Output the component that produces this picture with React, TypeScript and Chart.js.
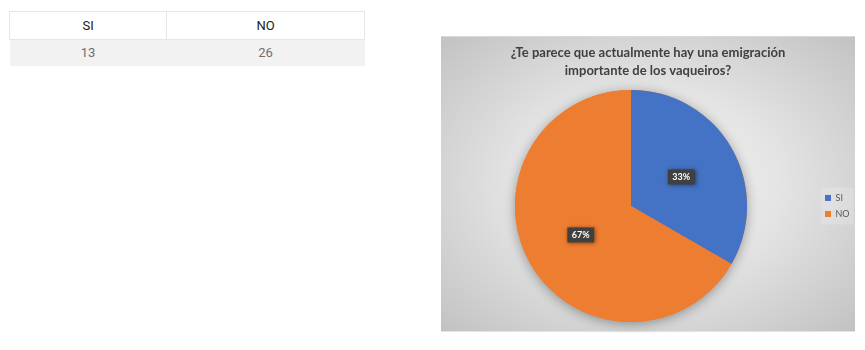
import React, { useEffect, useRef } from "react";
import { Chart, registerables } from "chart.js";

Chart.register(...registerables);

const categories = ["SI", "NO"];
const counts = [13, 26];
const sliceColors = ["#4472C4", "#ED7D31"];
const titleLines = ["¿Te parece que actualmente hay una emigración", "importante de los vaqueiros?"];

const pieShadow = {
  id: "pieShadow",
  beforeDatasetsDraw(chart: any) {
    const meta = chart.getDatasetMeta(0);
    const arc = meta.data[0];
    if (!arc) return;
    const { x, y, outerRadius } = arc.getProps(["x", "y", "outerRadius"], true);
    const ctx = chart.ctx;
    ctx.save();
    ctx.shadowColor = "rgba(0,0,0,0.35)";
    ctx.shadowBlur = 12;
    ctx.shadowOffsetX = 0;
    ctx.shadowOffsetY = 2;
    ctx.fillStyle = "#ED7D31";
    ctx.beginPath();
    ctx.arc(x, y, outerRadius, 0, Math.PI * 2);
    ctx.fill();
    ctx.restore();
  },
};

const pctLabels = {
  id: "pctLabels",
  afterDatasetsDraw(chart: any) {
    const meta = chart.getDatasetMeta(0);
    const data = chart.data.datasets[0].data as number[];
    const total = data.reduce((a, b) => a + b, 0);
    const ctx = chart.ctx;
    meta.data.forEach((arc: any, i: number) => {
      const p = arc.tooltipPosition();
      const txt = Math.round((data[i] / total) * 100) + "%";
      ctx.save();
      ctx.font = "bold 9px Lato, 'DejaVu Sans', sans-serif";
      const w = ctx.measureText(txt).width + 9;
      const h = 15;
      ctx.shadowColor = "rgba(0,0,0,0.5)";
      ctx.shadowBlur = 4;
      ctx.shadowOffsetX = 1;
      ctx.shadowOffsetY = 1;
      ctx.fillStyle = "#404040";
      ctx.fillRect(p.x - w / 2, p.y - h / 2, w, h);
      ctx.shadowColor = "transparent";
      ctx.fillStyle = "#ffffff";
      ctx.textAlign = "center";
      ctx.textBaseline = "middle";
      ctx.fillText(txt, p.x, p.y + 0.5);
      ctx.restore();
    });
  },
};

const legendBox = {
  id: "legendBox",
  beforeDraw(chart: any) {
    const lg = chart.legend;
    if (!lg) return;
    const ctx = chart.ctx;
    const items = lg.legendHitBoxes || [];
    if (!items.length) return;
    const top = items[0].top - 6;
    const bottom = items[items.length - 1].top + items[items.length - 1].height + 6;
    const left = items[0].left - 4;
    const right = Math.max(...items.map((b: any) => b.left + b.width)) + 4;
    ctx.save();
    ctx.fillStyle = "rgba(255,255,255,0.18)";
    ctx.fillRect(left, top, right - left, bottom - top);
    ctx.restore();
  },
};

function PieChart() {
  const ref = useRef<HTMLCanvasElement>(null);
  useEffect(() => {
    if (!ref.current) return;
    const chart = new Chart(ref.current, {
      type: "pie",
      data: {
        labels: categories,
        datasets: [
          {
            data: counts,
            backgroundColor: sliceColors,
            borderWidth: 0,
          },
        ],
      },
      options: {
        responsive: false,
        animation: false,
        layout: { padding: { top: 0, left: 3, right: 3, bottom: 11 } },
        plugins: {
          tooltip: { enabled: false },
          title: {
            display: true,
            text: titleLines,
            color: "#404040",
            font: { family: "Lato, 'Open Sans', sans-serif", size: 13, weight: "bold", lineHeight: 1.38 },
            padding: { top: 7, bottom: 10 },
          },
          legend: {
            position: "right",
            fullSize: false,
            maxWidth: 34,
            labels: {
              boxWidth: 6,
              boxHeight: 6,
              padding: 7,
              color: "#595959",
              font: { family: "Lato, 'Open Sans', sans-serif", size: 9 },
            },
          },
        },
      },
      plugins: [pieShadow, pctLabels, legendBox],
    });
    return () => chart.destroy();
  }, []);
  return <canvas ref={ref} width={414} height={296} style={{ display: "block" }} />;
}

export default function App() {
  const cell: React.CSSProperties = {
    textAlign: "center",
    fontFamily: "Roboto, sans-serif",
    fontSize: 13,
    padding: 0,
    border: "1px solid #e6e6e6",
  };
  return (
    <div style={{ position: "absolute", left: 0, top: 0, width: 865, height: 350, background: "#fff" }}>
      <table
        style={{
          position: "absolute",
          left: 9,
          top: 11,
          width: 356,
          borderCollapse: "collapse",
        }}
      >
        <thead>
          <tr style={{ height: 28 }}>
            {categories.map((c, i) => (
              <th key={c} style={{ ...cell, fontWeight: 400, color: "#1a1a1a", width: i === 0 ? 157 : 198 }}>
                {c}
              </th>
            ))}
          </tr>
        </thead>
        <tbody>
          <tr style={{ height: 26, background: "#f2f2f2" }}>
            {counts.map((v, i) => (
              <td key={i} style={{ ...cell, color: "#6f6f6f", borderLeft: "none", borderRight: "none", borderBottom: "none" }}>
                {v}
              </td>
            ))}
          </tr>
        </tbody>
      </table>
      <div
        style={{
          position: "absolute",
          left: 441,
          top: 36,
          width: 414,
          height: 296,
          boxSizing: "border-box",
          borderTop: "1px solid #d9d9d9",
          borderBottom: "1px solid #e3e3e3",
          background: "radial-gradient(ellipse at 50% 50%, #f7f7f7 0%, #e4e4e4 45%, #c2c2c2 100%)",
        }}
      >
        <PieChart />
      </div>
    </div>
  );
}
